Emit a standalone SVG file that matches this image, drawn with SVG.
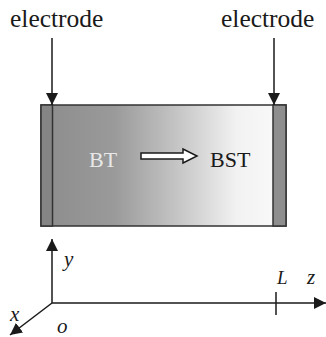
<svg xmlns="http://www.w3.org/2000/svg" width="326" height="337" viewBox="0 0 326 337">
<style>
.lbl{font-family:'Liberation Serif','Times New Roman',serif;fill:#1a1a1a}
.it{font-family:'Liberation Serif','Times New Roman',serif;font-style:italic;fill:#1a1a1a}
.ln{stroke:#1a1a1a;stroke-width:1.5;fill:none}
</style>
<defs>
<linearGradient id="g" x1="0" y1="0" x2="1" y2="0">
<stop offset="0" stop-color="#8c8c8c"/>
<stop offset="0.3" stop-color="#9a9a9a"/>
<stop offset="0.55" stop-color="#c4c4c4"/>
<stop offset="0.8" stop-color="#f2f2f2"/>
<stop offset="1" stop-color="#fafafa"/>
</linearGradient>
<marker id="ah2" viewBox="0 0 12 12" refX="12" refY="6" markerWidth="12" markerHeight="12" markerUnits="userSpaceOnUse" orient="auto">
<path d="M0,0 L12,6 L0,12 Z" fill="#1a1a1a"/>
</marker>
</defs>
<g id="sample">
<rect x="41" y="105" width="245" height="121" fill="url(#g)" stroke="#333" stroke-width="1.5"/>
<rect x="41" y="105" width="11.5" height="121" fill="#858585" stroke="#333" stroke-width="1.5"/>
<rect x="273" y="105" width="13" height="121" fill="#8e8e8e" stroke="#333" stroke-width="1.5"/>
<text class="lbl" x="89" y="167" font-size="22" style="fill:#e8e8e8">BT</text>
<text class="lbl" x="210" y="167" font-size="22">BST</text>
<path d="M141,153 H183 V149 L197,156 L183,163 V159 H141 Z" fill="#fff" stroke="#1a1a1a" stroke-width="1.5"/>
</g>
<g id="electrode-left"><text class="lbl" x="10" y="27" font-size="25.5">electrode</text></g>
<g id="electrode-right"><text class="lbl" x="221" y="27" font-size="25.5">electrode</text></g>
<g id="axes">
<text class="it" x="64" y="266" font-size="21">y</text>
<text class="it" x="277" y="284" font-size="19">L</text>
<text class="it" x="307" y="284" font-size="21">z</text>
<text class="it" x="10" y="321" font-size="21">x</text>
<text class="it" x="57" y="333" font-size="21">o</text>
</g>
<g id="connectors">
<line class="ln" x1="52" y1="38" x2="52" y2="105" marker-end="url(#ah2)"/>
<line class="ln" x1="274" y1="38" x2="274" y2="105" marker-end="url(#ah2)"/>
<line class="ln" x1="52" y1="303" x2="52" y2="239" marker-end="url(#ah2)"/>
<line class="ln" x1="52" y1="303" x2="326" y2="303" marker-end="url(#ah2)"/>
<line class="ln" x1="52" y1="303" x2="10" y2="335" marker-end="url(#ah2)"/>
<line class="ln" x1="276" y1="292" x2="276" y2="315"/>
</g>
</svg>
